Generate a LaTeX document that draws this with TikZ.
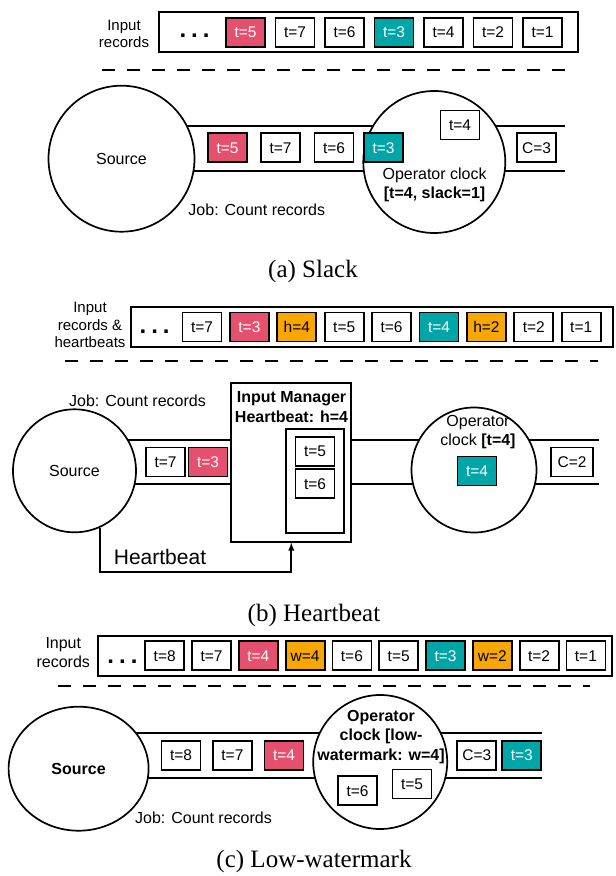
\documentclass[tikz,border=0pt]{standalone}
\usepackage{fontspec}
\setmainfont{Liberation Sans}
\newfontfamily\capfont{Liberation Serif}
\usetikzlibrary{arrows,positioning,shapes.geometric,backgrounds}
\definecolor{tlate}{HTML}{E6506F}
\definecolor{tdone}{HTML}{00A5A8}
\definecolor{tmark}{HTML}{F8A600}
\tikzset{basic/.style={draw,fill=white,line width=1.8pt,inner sep=0pt}}
\tikzset{rec/.style={basic,minimum width=39pt,minimum height=29pt,
                     font=\fontsize{15.5}{18}\selectfont}}

\begin{document}
\begin{tikzpicture}[x=1pt,y=-1pt,>=latex,
      % record colours
      late/.style   ={rec, fill=tlate, text=white},
      done/.style   ={rec, fill=tdone, text=white},
      wmark/.style  ={rec, fill=tmark},
      % streams and operators
      row/.style    ={draw, line width=2pt, inner sep=0pt},
      proc/.style   ={draw, circle, fill=white, line width=1.7pt, inner sep=0pt},
      stream/.style ={draw, line width=1.8pt},
      divider/.style={line width=1.8pt, dash pattern=on 13pt off 12pt},
      txt/.style    ={font=\fontsize{16}{19}\selectfont, align=center},
      dots/.style   ={font=\fontsize{24}{24}\selectfont\bfseries},
      subcap/.style ={font=\capfont\fontsize{25}{28}\selectfont}
    ]
    \useasboundingbox (0,0) rectangle (616,876);

    % ---------------- (a) slack ----------------
    \node[txt, font=\fontsize{15}{17}\selectfont] (inA) at (124,33.5) {Input\\records};
    \node[row, minimum width=419pt, minimum height=40pt] (rowA) at (368.5,32) {};
    \node[dots] (dotA) at (194.5,36) {.\hspace{5pt}.\hspace{5pt}.};
    \foreach \t/\s [count=\i] in {5/late,7/rec,6/rec,3/done,4/rec,2/rec,1/rec}
      \node[\s] (rA\i) at ({245.5+49.5*(\i-1)},32.5) {t=\t};
    \draw[divider] (102,70) -- (570,70);

    \node[proc, minimum size=146pt] (srcA) at (121.5,158.7) {\fontsize{16}{19}\selectfont Source};
    \node[proc, minimum size=142pt] (opA) at (434.3,162) {};
    \coordinate (topA) at (0,125.7);
    \coordinate (botA) at (0,170.7);
    \coordinate (endA) at (565,0);
    \begin{scope}[on background layer]
      \draw[stream] (srcA |- topA) -- (opA |- topA) -- (endA |- topA);
      \draw[stream] (srcA |- botA) -- (opA |- botA) -- (endA |- botA);
    \end{scope}
    \foreach \t/\s/\x [count=\i] in {5/late/227.5,7/rec/280.5,6/rec/334,3/done/383.5}
      \node[\s] (cA\i) at (\x,147.8) {t=\t};
    \node[rec] (kA) at (460,125) {t=4};
    \node[rec] (cntA) at (536.5,147.8) {C=3};
    \node[txt] (clkA) at (434.6,184.5) {Operator clock\\\textbf{[t=4, slack=1]}};
    \node[txt] (jobA) at (256.8,209.3) {Job: Count records};
    \node[subcap] (capA) at (313,271) {(a) Slack};

    % ---------------- (b) heartbeat ----------------
    \node[txt, font=\fontsize{15}{17.5}\selectfont] (inB) at (90,325) {Input\\records \&\\heartbeats};
    \node[row, minimum width=481.6pt, minimum height=39.4pt] (rowB) at (372.2,327) {};
    \node[dots] (dotB) at (154.6,332) {.\hspace{5pt}.\hspace{5pt}.};
    \foreach \t/\s [count=\i] in {t=7/rec,t=3/late,h=4/wmark,t=5/rec,t=6/rec,t=4/done,h=2/wmark,t=2/rec,t=1/rec}
      \node[\s] (rB\i) at ({202+47.4*(\i-1)},327) {\t};
    \draw[divider] (65,361) -- (598,361);

    \node[proc, minimum size=123pt] (srcB) at (74.5,470.8) {\fontsize{16}{19}\selectfont Source};
    \node[txt] (jobB) at (137.5,400.7) {Job: Count records};
    \node[basic, minimum width=120pt, minimum height=159pt] (imB) at (291.3,462.2) {};
    \node[txt, font=\fontsize{16}{19.4}\selectfont\bfseries] (imtxt) at (291.5,407) {Input Manager\\Heartbeat: h=4};
    \node[basic, minimum width=58pt, minimum height=103.4pt] (bufB) at (314.75,481) {};
    \node[rec] (qB1) at (315,451.7) {t=5};
    \node[rec] (qB2) at (315,483.7) {t=6};
    \node[proc, minimum size=125pt] (opB) at (474,470) {};
    \node[txt, font=\fontsize{16}{18.3}\selectfont] (clkB) at (478,432) {Operator\\clock \textbf{[t=4]}};
    \coordinate (topB) at (0,440);
    \coordinate (botB) at (0,484.3);
    \coordinate (endB) at (599,0);
    \begin{scope}[on background layer]
      \draw[stream] (srcB |- topB) -- (imB |- topB) -- (opB |- topB) -- (endB |- topB);
      \draw[stream] (srcB |- botB) -- (imB |- botB) -- (opB |- botB) -- (endB |- botB);
    \end{scope}
    \node[rec] (cB1) at (165.5,462) {t=7};
    \node[late] (cB2) at (208,462) {t=3};
    \node[done] (kB) at (477,471) {t=4};
    \node[rec, minimum width=42pt] (cntB) at (572,462) {C=2};
    % heartbeats go round the channel
    \coordinate (hbB) at (0,571.7);
    \draw[->, line width=1.7pt] (srcB.-66) |- (imB.south |- hbB) -- (imB.south);
    \node[font=\fontsize{21}{24}\selectfont] (hbtxt) at (160,557) {Heartbeat};
    \node[subcap] (capB) at (314,615) {(b) Heartbeat};

    % ---------------- (c) low-watermark ----------------
    \node[txt] (inC) at (63.3,653) {Input\\records};
    \node[row, minimum width=514pt, minimum height=39.4pt] (rowC) at (355.3,656) {};
    \node[dots] (dotC) at (122.5,662) {.\hspace{5pt}.\hspace{5pt}.};
    \foreach \t/\s [count=\i] in {t=8/rec,t=7/rec,t=4/late,w=4/wmark,t=6/rec,t=5/rec,t=3/done,w=2/wmark,t=2/rec,t=1/rec}
      \node[\s] (rC\i) at ({164.7+46.8*(\i-1)},655.8) {\t};
    \draw[divider] (58,686) -- (590,686);

    \node[proc, ellipse, minimum width=140pt, minimum height=124pt] (srcC) at (78.6,768.7) {\fontsize{16}{19}\selectfont\bfseries Source};
    \node[proc, minimum size=134pt] (opC) at (380.2,762) {};
    \node[txt, font=\fontsize{16}{19.3}\selectfont\bfseries] (clkC) at (381,737) {Operator\\clock [low-\\watermark: w=4]};
    \coordinate (topC) at (0,733.3);
    \coordinate (botC) at (0,777.7);
    \coordinate (endC) at (542,0);
    \begin{scope}[on background layer]
      \draw[stream] (srcC |- topC) -- (opC |- topC) -- (endC |- topC);
      \draw[stream] (srcC |- botC) -- (opC |- botC) -- (endC |- botC);
    \end{scope}
    \foreach \t/\s/\x [count=\i] in {8/rec/181,7/rec/232.4,4/late/284}
      \node[\s] (cC\i) at (\x,755.5) {t=\t};
    \node[rec] (qC1) at (357.5,790.7) {t=6};
    \node[rec] (qC2) at (412,784) {t=5};
    \node[rec] (cntC) at (476.8,755.5) {C=3};
    \node[done] (outC) at (521.8,755.5) {t=3};
    \node[txt] (jobC) at (203.5,817.3) {Job: Count records};
    \node[subcap] (capC) at (314,861) {(c) Low-watermark};
\end{tikzpicture}
\end{document}
